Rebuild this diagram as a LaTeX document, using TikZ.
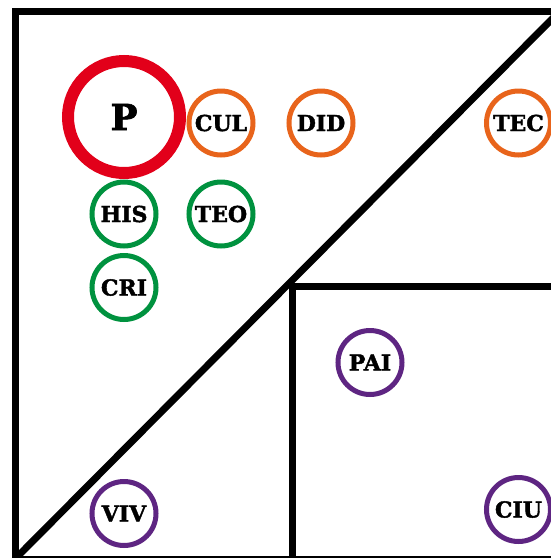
\documentclass[tikz,border=0pt]{standalone}
\usepackage{fontspec}
\setmainfont{DejaVu Serif}
\newfontfamily\labfont[FakeBold=1.8]{DejaVu Serif Bold}
\definecolor{cred}{HTML}{E2001A}
\definecolor{corange}{HTML}{E8641B}
\definecolor{cgreen}{HTML}{00923F}
\definecolor{cpurple}{HTML}{5E2582}
\tikzset{
  frame/.style={line width=7pt, black},
  ring/.style={circle, draw, line width=5pt, fill=white, minimum size=64pt, inner sep=0pt,
    font=\labfont\fontsize{22}{22}\selectfont},
  bigring/.style={circle, draw=cred, line width=12pt, fill=white, minimum size=112pt, inner sep=0pt,
    font=\labfont\fontsize{36}{36}\selectfont}
}
\begin{document}
\begin{tikzpicture}[x=1pt,y=-1pt]
\useasboundingbox (0,0) rectangle (551,558);
\clip (0,0) rectangle (551,558);
\fill[white] (0,0) rectangle (551,558);
% frame
\draw[frame] (15,11) rectangle (560,559);
\coordinate (bl) at (15,559);
\coordinate (tr) at (560,11);
\draw[frame, line cap=round] (bl) -- (tr);
\draw[frame] (292,286) rectangle (560,559);
% nodes
\node[bigring] (P) at (124,117) {P};
\node[ring, draw=corange] (CUL) at (221,123) {CUL};
\node[ring, draw=corange] (DID) at (321,123) {DID};
\node[ring, draw=corange] (TEC) at (518.5,123) {TEC};
\node[ring, draw=cgreen] (HIS) at (124,214) {HIS};
\node[ring, draw=cgreen] (TEO) at (221,214) {TEO};
\node[ring, draw=cgreen] (CRI) at (124,287.5) {CRI};
\node[ring, draw=cpurple] (PAI) at (370,362.5) {PAI};
\node[ring, draw=cpurple] (CIU) at (518.5,509.5) {CIU};
\node[ring, draw=cpurple] (VIV) at (124,513.5) {VIV};
\end{tikzpicture}
\end{document}
